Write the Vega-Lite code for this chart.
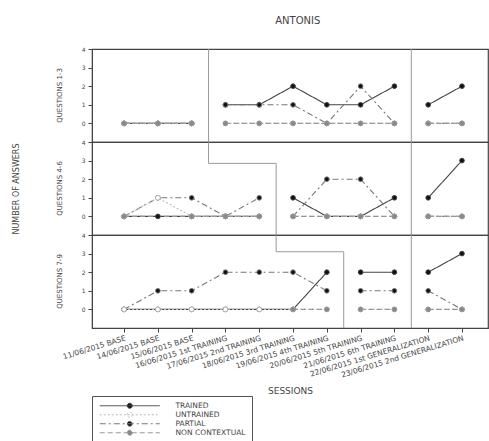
{
  "$schema": "https://vega.github.io/schema/vega-lite/v6.json",
  "padding": {"left": 13, "top": 16, "right": 0, "bottom": 0},
  "bounds": "flush",
  "title": {"text": "ANTONIS", "fontSize": 10, "fontWeight": "normal", "color": "#444", "font": "DejaVu Sans", "offset": 20, "anchor": "middle", "frame": "bounds", "dx": 47},
  "data": {"values": [
    {"tier":"QUESTIONS 1-3","phase":"A","series":"TRAINED","session":0,"value":0},
    {"tier":"QUESTIONS 1-3","phase":"A","series":"TRAINED","session":1,"value":0},
    {"tier":"QUESTIONS 1-3","phase":"A","series":"TRAINED","session":2,"value":0},
    {"tier":"QUESTIONS 1-3","phase":"A","series":"PARTIAL","session":0,"value":0},
    {"tier":"QUESTIONS 1-3","phase":"A","series":"PARTIAL","session":1,"value":0},
    {"tier":"QUESTIONS 1-3","phase":"A","series":"PARTIAL","session":2,"value":0},
    {"tier":"QUESTIONS 1-3","phase":"A","series":"UNTRAINED","session":0,"value":0},
    {"tier":"QUESTIONS 1-3","phase":"A","series":"UNTRAINED","session":1,"value":0},
    {"tier":"QUESTIONS 1-3","phase":"A","series":"UNTRAINED","session":2,"value":0},
    {"tier":"QUESTIONS 1-3","phase":"A","series":"NON CONTEXTUAL","session":0,"value":0},
    {"tier":"QUESTIONS 1-3","phase":"A","series":"NON CONTEXTUAL","session":1,"value":0},
    {"tier":"QUESTIONS 1-3","phase":"A","series":"NON CONTEXTUAL","session":2,"value":0},
    {"tier":"QUESTIONS 1-3","phase":"B","series":"TRAINED","session":3,"value":1},
    {"tier":"QUESTIONS 1-3","phase":"B","series":"TRAINED","session":4,"value":1},
    {"tier":"QUESTIONS 1-3","phase":"B","series":"TRAINED","session":5,"value":2},
    {"tier":"QUESTIONS 1-3","phase":"B","series":"TRAINED","session":6,"value":1},
    {"tier":"QUESTIONS 1-3","phase":"B","series":"TRAINED","session":7,"value":1},
    {"tier":"QUESTIONS 1-3","phase":"B","series":"TRAINED","session":8,"value":2},
    {"tier":"QUESTIONS 1-3","phase":"B","series":"PARTIAL","session":3,"value":1},
    {"tier":"QUESTIONS 1-3","phase":"B","series":"PARTIAL","session":4,"value":1},
    {"tier":"QUESTIONS 1-3","phase":"B","series":"PARTIAL","session":5,"value":1},
    {"tier":"QUESTIONS 1-3","phase":"B","series":"PARTIAL","session":6,"value":0},
    {"tier":"QUESTIONS 1-3","phase":"B","series":"PARTIAL","session":7,"value":2},
    {"tier":"QUESTIONS 1-3","phase":"B","series":"PARTIAL","session":8,"value":0},
    {"tier":"QUESTIONS 1-3","phase":"B","series":"UNTRAINED","session":3,"value":0},
    {"tier":"QUESTIONS 1-3","phase":"B","series":"UNTRAINED","session":4,"value":0},
    {"tier":"QUESTIONS 1-3","phase":"B","series":"UNTRAINED","session":5,"value":0},
    {"tier":"QUESTIONS 1-3","phase":"B","series":"UNTRAINED","session":6,"value":0},
    {"tier":"QUESTIONS 1-3","phase":"B","series":"UNTRAINED","session":7,"value":0},
    {"tier":"QUESTIONS 1-3","phase":"B","series":"UNTRAINED","session":8,"value":0},
    {"tier":"QUESTIONS 1-3","phase":"B","series":"NON CONTEXTUAL","session":3,"value":0},
    {"tier":"QUESTIONS 1-3","phase":"B","series":"NON CONTEXTUAL","session":4,"value":0},
    {"tier":"QUESTIONS 1-3","phase":"B","series":"NON CONTEXTUAL","session":5,"value":0},
    {"tier":"QUESTIONS 1-3","phase":"B","series":"NON CONTEXTUAL","session":6,"value":0},
    {"tier":"QUESTIONS 1-3","phase":"B","series":"NON CONTEXTUAL","session":7,"value":0},
    {"tier":"QUESTIONS 1-3","phase":"B","series":"NON CONTEXTUAL","session":8,"value":0},
    {"tier":"QUESTIONS 1-3","phase":"C","series":"TRAINED","session":9,"value":1},
    {"tier":"QUESTIONS 1-3","phase":"C","series":"TRAINED","session":10,"value":2},
    {"tier":"QUESTIONS 1-3","phase":"C","series":"PARTIAL","session":9,"value":0},
    {"tier":"QUESTIONS 1-3","phase":"C","series":"PARTIAL","session":10,"value":0},
    {"tier":"QUESTIONS 1-3","phase":"C","series":"UNTRAINED","session":9,"value":0},
    {"tier":"QUESTIONS 1-3","phase":"C","series":"UNTRAINED","session":10,"value":0},
    {"tier":"QUESTIONS 1-3","phase":"C","series":"NON CONTEXTUAL","session":9,"value":0},
    {"tier":"QUESTIONS 1-3","phase":"C","series":"NON CONTEXTUAL","session":10,"value":0},

    {"tier":"QUESTIONS 4-6","phase":"A","series":"TRAINED","session":0,"value":0},
    {"tier":"QUESTIONS 4-6","phase":"A","series":"TRAINED","session":1,"value":0},
    {"tier":"QUESTIONS 4-6","phase":"A","series":"TRAINED","session":2,"value":0},
    {"tier":"QUESTIONS 4-6","phase":"A","series":"TRAINED","session":3,"value":0},
    {"tier":"QUESTIONS 4-6","phase":"A","series":"TRAINED","session":4,"value":0},
    {"tier":"QUESTIONS 4-6","phase":"A","series":"PARTIAL","session":0,"value":0},
    {"tier":"QUESTIONS 4-6","phase":"A","series":"PARTIAL","session":1,"value":1},
    {"tier":"QUESTIONS 4-6","phase":"A","series":"PARTIAL","session":2,"value":1},
    {"tier":"QUESTIONS 4-6","phase":"A","series":"PARTIAL","session":3,"value":0},
    {"tier":"QUESTIONS 4-6","phase":"A","series":"PARTIAL","session":4,"value":1},
    {"tier":"QUESTIONS 4-6","phase":"A","series":"UNTRAINED","session":0,"value":0},
    {"tier":"QUESTIONS 4-6","phase":"A","series":"UNTRAINED","session":1,"value":1},
    {"tier":"QUESTIONS 4-6","phase":"A","series":"UNTRAINED","session":2,"value":0},
    {"tier":"QUESTIONS 4-6","phase":"A","series":"UNTRAINED","session":3,"value":0},
    {"tier":"QUESTIONS 4-6","phase":"A","series":"UNTRAINED","session":4,"value":0},
    {"tier":"QUESTIONS 4-6","phase":"A","series":"NON CONTEXTUAL","session":0,"value":0},
    {"tier":"QUESTIONS 4-6","phase":"A","series":"NON CONTEXTUAL","session":2,"value":0},
    {"tier":"QUESTIONS 4-6","phase":"A","series":"NON CONTEXTUAL","session":3,"value":0},
    {"tier":"QUESTIONS 4-6","phase":"A","series":"NON CONTEXTUAL","session":4,"value":0},
    {"tier":"QUESTIONS 4-6","phase":"B","series":"TRAINED","session":5,"value":1},
    {"tier":"QUESTIONS 4-6","phase":"B","series":"TRAINED","session":6,"value":0},
    {"tier":"QUESTIONS 4-6","phase":"B","series":"TRAINED","session":7,"value":0},
    {"tier":"QUESTIONS 4-6","phase":"B","series":"TRAINED","session":8,"value":1},
    {"tier":"QUESTIONS 4-6","phase":"B","series":"PARTIAL","session":5,"value":0},
    {"tier":"QUESTIONS 4-6","phase":"B","series":"PARTIAL","session":6,"value":2},
    {"tier":"QUESTIONS 4-6","phase":"B","series":"PARTIAL","session":7,"value":2},
    {"tier":"QUESTIONS 4-6","phase":"B","series":"PARTIAL","session":8,"value":0},
    {"tier":"QUESTIONS 4-6","phase":"B","series":"UNTRAINED","session":5,"value":0},
    {"tier":"QUESTIONS 4-6","phase":"B","series":"UNTRAINED","session":6,"value":0},
    {"tier":"QUESTIONS 4-6","phase":"B","series":"UNTRAINED","session":7,"value":0},
    {"tier":"QUESTIONS 4-6","phase":"B","series":"UNTRAINED","session":8,"value":0},
    {"tier":"QUESTIONS 4-6","phase":"B","series":"NON CONTEXTUAL","session":5,"value":0},
    {"tier":"QUESTIONS 4-6","phase":"B","series":"NON CONTEXTUAL","session":6,"value":0},
    {"tier":"QUESTIONS 4-6","phase":"B","series":"NON CONTEXTUAL","session":7,"value":0},
    {"tier":"QUESTIONS 4-6","phase":"B","series":"NON CONTEXTUAL","session":8,"value":0},
    {"tier":"QUESTIONS 4-6","phase":"C","series":"TRAINED","session":9,"value":1},
    {"tier":"QUESTIONS 4-6","phase":"C","series":"TRAINED","session":10,"value":3},
    {"tier":"QUESTIONS 4-6","phase":"C","series":"PARTIAL","session":9,"value":0},
    {"tier":"QUESTIONS 4-6","phase":"C","series":"PARTIAL","session":10,"value":0},
    {"tier":"QUESTIONS 4-6","phase":"C","series":"UNTRAINED","session":9,"value":0},
    {"tier":"QUESTIONS 4-6","phase":"C","series":"UNTRAINED","session":10,"value":0},
    {"tier":"QUESTIONS 4-6","phase":"C","series":"NON CONTEXTUAL","session":9,"value":0},
    {"tier":"QUESTIONS 4-6","phase":"C","series":"NON CONTEXTUAL","session":10,"value":0},

    {"tier":"QUESTIONS 7-9","phase":"A","series":"TRAINED","session":0,"value":0},
    {"tier":"QUESTIONS 7-9","phase":"A","series":"TRAINED","session":1,"value":0},
    {"tier":"QUESTIONS 7-9","phase":"A","series":"TRAINED","session":2,"value":0},
    {"tier":"QUESTIONS 7-9","phase":"A","series":"TRAINED","session":3,"value":0},
    {"tier":"QUESTIONS 7-9","phase":"A","series":"TRAINED","session":4,"value":0},
    {"tier":"QUESTIONS 7-9","phase":"A","series":"TRAINED","session":5,"value":0},
    {"tier":"QUESTIONS 7-9","phase":"A","series":"TRAINED","session":6,"value":2},
    {"tier":"QUESTIONS 7-9","phase":"A","series":"PARTIAL","session":0,"value":0},
    {"tier":"QUESTIONS 7-9","phase":"A","series":"PARTIAL","session":1,"value":1},
    {"tier":"QUESTIONS 7-9","phase":"A","series":"PARTIAL","session":2,"value":1},
    {"tier":"QUESTIONS 7-9","phase":"A","series":"PARTIAL","session":3,"value":2},
    {"tier":"QUESTIONS 7-9","phase":"A","series":"PARTIAL","session":4,"value":2},
    {"tier":"QUESTIONS 7-9","phase":"A","series":"PARTIAL","session":5,"value":2},
    {"tier":"QUESTIONS 7-9","phase":"A","series":"PARTIAL","session":6,"value":1},
    {"tier":"QUESTIONS 7-9","phase":"A","series":"UNTRAINED","session":0,"value":0},
    {"tier":"QUESTIONS 7-9","phase":"A","series":"UNTRAINED","session":1,"value":0},
    {"tier":"QUESTIONS 7-9","phase":"A","series":"UNTRAINED","session":2,"value":0},
    {"tier":"QUESTIONS 7-9","phase":"A","series":"UNTRAINED","session":3,"value":0},
    {"tier":"QUESTIONS 7-9","phase":"A","series":"UNTRAINED","session":4,"value":0},
    {"tier":"QUESTIONS 7-9","phase":"A","series":"UNTRAINED","session":5,"value":0},
    {"tier":"QUESTIONS 7-9","phase":"A","series":"UNTRAINED","session":6,"value":0},
    {"tier":"QUESTIONS 7-9","phase":"A","series":"NON CONTEXTUAL","session":5,"value":0},
    {"tier":"QUESTIONS 7-9","phase":"A","series":"NON CONTEXTUAL","session":6,"value":0},
    {"tier":"QUESTIONS 7-9","phase":"B","series":"TRAINED","session":7,"value":2},
    {"tier":"QUESTIONS 7-9","phase":"B","series":"TRAINED","session":8,"value":2},
    {"tier":"QUESTIONS 7-9","phase":"B","series":"PARTIAL","session":7,"value":1},
    {"tier":"QUESTIONS 7-9","phase":"B","series":"PARTIAL","session":8,"value":1},
    {"tier":"QUESTIONS 7-9","phase":"B","series":"UNTRAINED","session":7,"value":0},
    {"tier":"QUESTIONS 7-9","phase":"B","series":"UNTRAINED","session":8,"value":0},
    {"tier":"QUESTIONS 7-9","phase":"B","series":"NON CONTEXTUAL","session":7,"value":0},
    {"tier":"QUESTIONS 7-9","phase":"B","series":"NON CONTEXTUAL","session":8,"value":0},
    {"tier":"QUESTIONS 7-9","phase":"C","series":"TRAINED","session":9,"value":2},
    {"tier":"QUESTIONS 7-9","phase":"C","series":"TRAINED","session":10,"value":3},
    {"tier":"QUESTIONS 7-9","phase":"C","series":"PARTIAL","session":9,"value":1},
    {"tier":"QUESTIONS 7-9","phase":"C","series":"PARTIAL","session":10,"value":0},
    {"tier":"QUESTIONS 7-9","phase":"C","series":"UNTRAINED","session":9,"value":0},
    {"tier":"QUESTIONS 7-9","phase":"C","series":"UNTRAINED","session":10,"value":0},
    {"tier":"QUESTIONS 7-9","phase":"C","series":"NON CONTEXTUAL","session":9,"value":0},
    {"tier":"QUESTIONS 7-9","phase":"C","series":"NON CONTEXTUAL","session":10,"value":0},

    {"tier":"QUESTIONS 1-3","from_s":2.5,"to_s":2.5,"from_n":-1,"to_n":4},
    {"tier":"QUESTIONS 1-3","from_s":8.5,"to_s":8.5,"from_n":-1,"to_n":4},
    {"tier":"QUESTIONS 4-6","from_s":2.5,"to_s":2.5,"from_n":2.85,"to_n":4},
    {"tier":"QUESTIONS 4-6","from_s":2.5,"to_s":4.5,"from_n":2.85,"to_n":2.85},
    {"tier":"QUESTIONS 4-6","from_s":4.5,"to_s":4.5,"from_n":-1,"to_n":2.85},
    {"tier":"QUESTIONS 4-6","from_s":8.5,"to_s":8.5,"from_n":-1,"to_n":4},
    {"tier":"QUESTIONS 7-9","from_s":4.5,"to_s":4.5,"from_n":3.1,"to_n":4},
    {"tier":"QUESTIONS 7-9","from_s":4.5,"to_s":6.5,"from_n":3.1,"to_n":3.1},
    {"tier":"QUESTIONS 7-9","from_s":6.5,"to_s":6.5,"from_n":-1,"to_n":3.1},
    {"tier":"QUESTIONS 7-9","from_s":8.5,"to_s":8.5,"from_n":-1,"to_n":4}
  ]},
  "facet": {
    "row": {
      "field": "tier", "type": "nominal", "title": "NUMBER OF ANSWERS",
      "header": {"labelAngle": -90, "labelOrient": "left", "titleOrient": "left", "labelFontSize": 7, "labelColor": "#444", "labelFont": "DejaVu Sans", "titleFont": "DejaVu Sans", "titleFontSize": 8, "titleFontWeight": "normal", "titleColor": "#444", "labelPadding": 14, "titlePadding": 25}
    }
  },
  "spacing": 0,
  "spec": {
    "width": 396,
    "height": 93,
    "layer": [
      {
        "transform": [{"filter": "isValid(datum.from_s)"}],
        "mark": {"type": "rule", "color": "#999", "strokeWidth": 1},
        "encoding": {
          "x": {"field": "from_s", "type": "quantitative", "scale": {"domain": [-0.95, 10.77], "nice": false, "zero": false}, "title": "SESSIONS", "axis": {"values": [0,1,2,3,4,5,6,7,8,9,10]}},
          "x2": {"field": "to_s"},
          "y": {"field": "from_n", "type": "quantitative", "scale": {"domain": [-1, 4], "nice": false, "zero": false}, "title": null, "axis": {"values": [0,1,2,3,4]}},
          "y2": {"field": "to_n"}
        }
      },
      {
        "transform": [{"filter": "isValid(datum.series)"}],
        "mark": {"type": "line", "strokeWidth": 1.1},
        "encoding": {
          "x": {"field": "session", "type": "quantitative", "scale": {"domain": [-0.95, 10.77], "nice": false, "zero": false}, "title": "SESSIONS", "axis": {"values": [0,1,2,3,4,5,6,7,8,9,10]}},
          "y": {"field": "value", "type": "quantitative", "scale": {"domain": [-1, 4], "nice": false, "zero": false}, "title": null, "axis": {"values": [0,1,2,3,4]}},
          "detail": {"field": "phase"},
          "stroke": {"field": "series", "type": "nominal", "scale": {"domain": ["TRAINED", "UNTRAINED", "PARTIAL", "NON CONTEXTUAL"], "range": ["#444", "#bbb", "#777", "#999"]},
            "legend": {"orient": "none", "legendX": 0, "legendY": 347, "title": null, "strokeColor": "#555", "padding": 6, "labelFontSize": 7.5, "labelFont": "DejaVu Sans", "labelColor": "#444", "symbolType": "M-10,0H10M0.85,0A0.85,0.85,0,1,1,-0.85,0A0.85,0.85,0,1,1,0.85,0Z", "symbolSize": 36, "rowPadding": -2, "symbolOffset": 28, "labelOffset": 42, "symbolStrokeWidth": 1}},
          "strokeDash": {"field": "series", "type": "nominal", "scale": {"domain": ["TRAINED", "UNTRAINED", "PARTIAL", "NON CONTEXTUAL"], "range": [[1, 0], [2, 2], [6, 3, 2, 3], [5, 3]]}}
        }
      },
      {
        "transform": [{"filter": "isValid(datum.series)"}],
        "mark": {"type": "circle", "size": 22, "strokeWidth": 1, "opacity": 1},
        "encoding": {
          "x": {"field": "session", "type": "quantitative", "scale": {"domain": [-0.95, 10.77], "nice": false, "zero": false}, "title": "SESSIONS", "axis": {"values": [0,1,2,3,4,5,6,7,8,9,10]}},
          "y": {"field": "value", "type": "quantitative", "scale": {"domain": [-1, 4], "nice": false, "zero": false}, "title": null, "axis": {"values": [0,1,2,3,4]}},
          "stroke": {"field": "series", "type": "nominal"},
          "fill": {"field": "series", "type": "nominal", "scale": {"domain": ["TRAINED", "UNTRAINED", "PARTIAL", "NON CONTEXTUAL"], "range": ["#111", "#fff", "#111", "#888"]}}
        }
      }
    ]
  },
  "config": {
    "font": "DejaVu Sans",
    "view": {"stroke": "#444", "strokeWidth": 1.2},
    "axis": {"grid": false, "domainColor": "#444", "tickColor": "#444", "labelColor": "#444", "labelFont": "DejaVu Sans", "titleFont": "DejaVu Sans", "titleFontWeight": "normal", "titleColor": "#444"},
    "axisX": {"labelAngle": -17, "labelAlign": "right", "labelBaseline": "top", "labelFontSize": 7.5, "labelOverlap": false, "tickSize": 4, "titleFontSize": 9, "titlePadding": 8,
      "labelExpr": "['11/06/2015 BASE','14/06/2015 BASE','15/06/2015 BASE','16/06/2015 1st TRAINING','17/06/2015 2nd TRAINING','18/06/2015 3rd TRAINING','19/06/2015 4th TRAINING','20/06/2015 5th TRAINING','21/06/2015 6th TRAINING','22/06/2015 1st GENERALIZATION','23/06/2015 2nd GENERALIZATION'][datum.value]"},
    "axisY": {"labelFontSize": 6, "tickSize": 4, "labelPadding": 3, "labelOverlap": false}
  }
}
